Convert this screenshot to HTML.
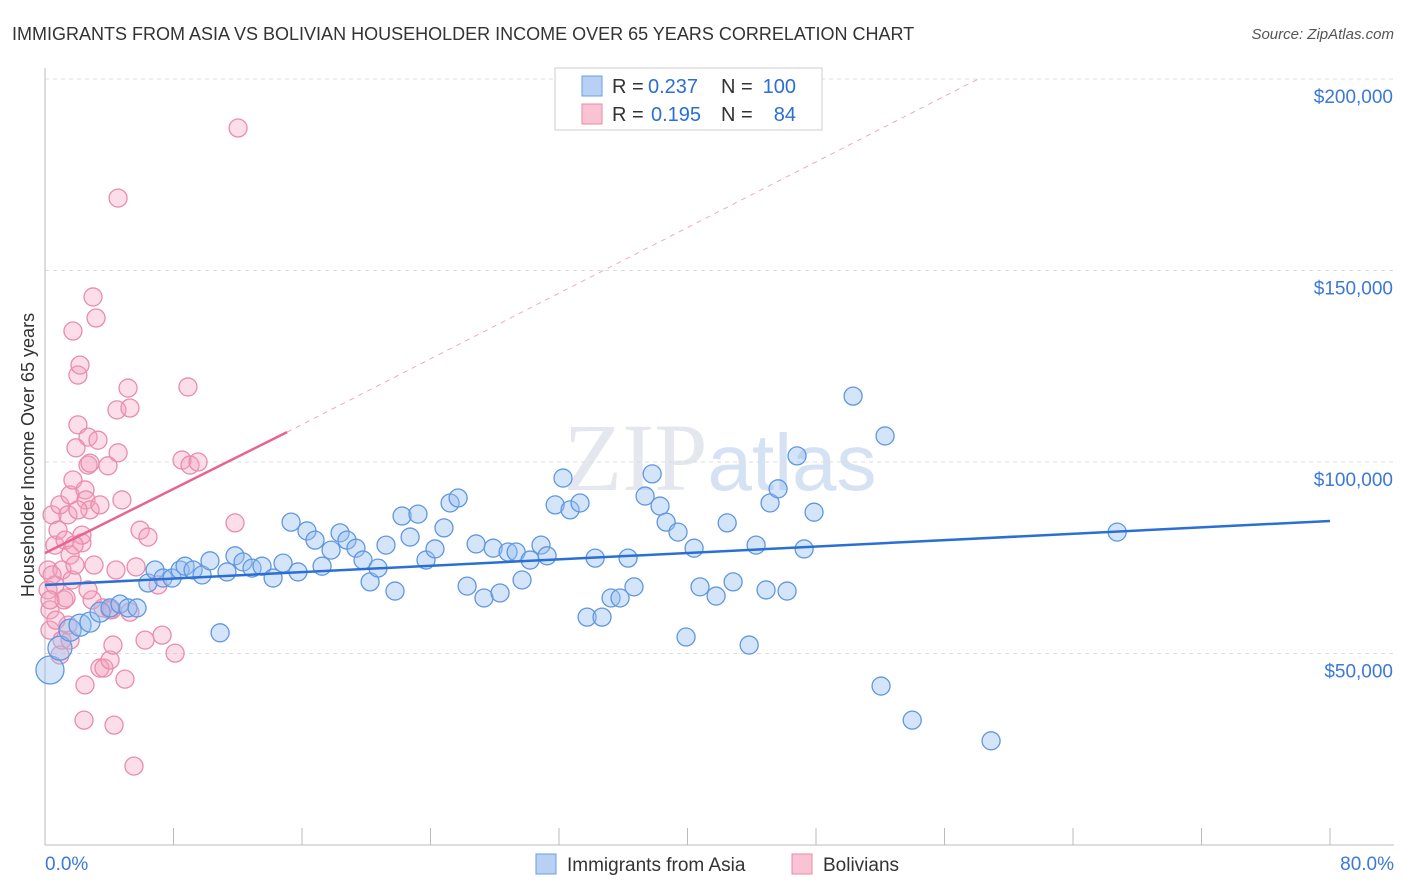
<!DOCTYPE html>
<html><head><meta charset="utf-8"><style>
body{margin:0;background:#fff;font-family:"Liberation Sans",sans-serif;}
svg{display:block}
</style></head><body>
<svg id="chart" width="1406" height="892">
<text x="12" y="40" font-size="18" fill="#333">IMMIGRANTS FROM ASIA VS BOLIVIAN HOUSEHOLDER INCOME OVER 65 YEARS CORRELATION CHART</text>
<text x="1394" y="39" font-size="15" fill="#555" font-style="italic" text-anchor="end">Source: ZipAtlas.com</text>
<text x="720" y="490" font-size="96" fill="#e4e8ee" text-anchor="middle" font-family="Liberation Serif,serif">ZIP<tspan fill="#d4e2f4" font-family="Liberation Sans,sans-serif" font-size="80">atlas</tspan></text>
<text transform="translate(34,455) rotate(-90)" font-size="18" fill="#333" text-anchor="middle">Householder Income Over 65 years</text>
<g id="grid"></g><g id="marks"></g>
<g>
<rect x="555" y="68" width="267" height="62" fill="#fff" stroke="#ccc"/>
<rect x="582" y="76" width="20" height="20" fill="#b7d0f3" stroke="#6a9fe0"/>
<rect x="582" y="104" width="20" height="20" fill="#f9c3d3" stroke="#e889a8"/>
<text x="612" y="93" font-size="20" fill="#333">R =</text>
<text x="648" y="93" font-size="20" fill="#2a6fd6">0.237</text>
<text x="721" y="93" font-size="20" fill="#333">N =</text>
<text x="796" y="93" font-size="20" fill="#2a6fd6" text-anchor="end">100</text>
<text x="612" y="121" font-size="20" fill="#333">R =</text>
<text x="651" y="121" font-size="20" fill="#2a6fd6">0.195</text>
<text x="721" y="121" font-size="20" fill="#333">N =</text>
<text x="796" y="121" font-size="20" fill="#2a6fd6" text-anchor="end">84</text>
</g>
<g>
<rect x="536" y="854" width="20" height="20" fill="#b7d0f3" stroke="#6a9fe0"/>
<text x="567" y="871" font-size="19" fill="#333">Immigrants from Asia</text>
<rect x="792" y="854" width="20" height="20" fill="#f9c3d3" stroke="#e889a8"/>
<text x="823" y="871" font-size="19" fill="#333">Bolivians</text>
</g>
<text x="45" y="870" font-size="19" fill="#3b78d8">0.0%</text>
<text x="1394" y="870" font-size="19" fill="#3b78d8" text-anchor="end">80.0%</text>
</svg>
<script>
const yTicks=[50,100,150,200];
const yTickLabels=["$50,000","$100,000","$150,000","$200,000"];
const xTicks=[0,8,16,24,32,40,48,56,64,72,80];
const asiaX=[.31,.93,1.56,2.18,2.8,3.43,4.05,4.67,5.17,5.73,6.41,6.85,7.35,7.91,8.41,8.72,9.22,9.78,10.27,10.9,11.33,11.83,12.33,12.89,13.51,14.2,14.82,15.32,15.75,16.31,16.81,17.25,17.81,18.37,18.8,19.36,19.8,20.24,20.73,21.23,21.79,22.23,22.73,23.22,23.72,24.28,24.84,25.22,25.72,26.28,26.84,27.33,27.9,28.33,28.83,29.33,29.7,30.2,30.88,31.26,31.76,32.25,32.69,33.31,33.75,34.25,34.68,35.24,35.8,36.3,36.67,37.36,37.8,38.29,38.67,39.41,39.91,40.41,40.78,41.78,42.47,42.84,43.84,44.27,44.89,45.14,45.64,46.2,46.82,47.26,47.88,50.31,52.05,52.3,53.99,58.9,66.75];
const asiaY=[45.7,51.4,56.1,57.4,58.2,60.8,61.9,62.9,61.9,61.9,68.4,71.8,69.7,69.7,71.8,72.8,71.8,70.5,74.2,55.4,71.3,75.5,73.9,72.3,72.8,69.7,73.6,84.3,71.3,82.0,79.6,72.8,77.0,81.5,79.6,77.5,74.4,68.7,72.3,78.3,66.3,85.9,80.4,86.4,74.4,77.3,82.8,89.3,90.6,67.6,78.6,64.5,77.5,65.8,76.5,76.5,69.2,74.4,78.3,75.5,88.8,95.8,87.5,89.3,59.5,74.9,59.5,64.5,64.5,74.9,67.4,91.1,96.9,88.5,84.3,81.7,54.3,77.5,67.4,65.0,84.1,68.7,52.2,78.3,66.6,89.3,93.0,66.3,101.6,77.3,86.9,117.2,41.5,106.8,32.6,27.2,81.7];
const asiaR=[14,12,11,11,10,10];
const bolX=[.19,.19,.31,.31,.44,.62,.62,.81,.93,1.06,1.25,1.43,1.43,1.56,1.56,1.68,1.74,1.74,1.87,1.93,2.05,2.05,2.18,2.3,2.3,2.43,2.49,2.49,2.55,2.68,2.68,2.8,2.8,2.99,3.05,3.18,3.3,3.42,3.61,3.67,3.92,4.05,4.17,4.23,4.3,4.42,4.48,4.55,4.55,4.79,4.98,5.17,5.29,5.29,5.54,5.67,5.92,6.23,6.41,7.04,7.29,8.1,8.53,8.9,9.03,9.53,11.83,12.02,.93,1.06,1.18,1.56,.31,.44,.68,1.31,1.81,2.93,3.42,2.05,2.68,4.05];
const bolY=[71.8,66.6,61.4,56.1,86.2,78.3,67.9,82.2,88.8,71.8,79.6,86.2,57.4,75.7,91.4,69.2,134.2,95.3,73.1,103.7,109.7,122.7,125.3,78.9,80.9,32.6,92.7,41.8,90.1,99.2,106.5,87.5,99.7,143.1,73.1,137.6,105.7,46.2,61.9,46.2,99.0,48.3,61.4,52.2,31.3,71.8,113.6,102.4,168.9,90.1,43.3,119.3,114.1,60.8,20.6,72.6,82.2,53.5,80.4,67.9,54.8,50.1,100.5,119.6,99.2,100.0,84.1,187.2,49.6,53.5,64.0,53.5,64.0,70.5,58.7,64.5,78.3,64.0,88.8,87.5,66.6,61.4];
const asiaLine=[[0,67.9],[80,84.6]];
const bolLine=[[0,76.2],[15.07,107.8]];
const bolDash=[[15.07,107.8],[58.1,200]];
const NS="http://www.w3.org/2000/svg";
const X0=45,X1=1330,YB=845,PXK=191.5/50;
const sx=v=>X0+(v/80)*(X1-X0), sy=v=>YB-v*PXK;
const gridG=document.getElementById('grid'),marksG=document.getElementById('marks');
function mk(tag,attrs,parent){const e=document.createElementNS(NS,tag);for(const k in attrs)e.setAttribute(k,attrs[k]);parent.appendChild(e);return e;}
yTicks.forEach((t,i)=>{
 const l=mk('line',{x1:X0,x2:1394,y1:sy(t),y2:sy(t),stroke:'#ddd','stroke-dasharray':'4,4'},gridG);
 
 
 const tx=mk('text',{x:1393,y:sy(t)+24,'font-size':19,fill:'#3b78d8','text-anchor':'end'},gridG);
 tx.textContent=yTickLabels[i];
 
 
});
const yAxisLine=mk('line',{x1:X0,x2:X0,y1:68,y2:YB,stroke:'#bbb'},gridG);


const xAxisLine=mk('line',{x1:X0,x2:1394,y1:YB,y2:YB,stroke:'#bbb'},gridG);


xTicks.forEach(t=>{
 const l=mk('line',{x1:sx(t),x2:sx(t),y1:YB,y2:YB-17,stroke:'#bbb'},gridG);
 
 
});
bolX.forEach((x,i)=>{
 const c=mk('circle',{cx:sx(x),cy:sy(bolY[i]),r:9,fill:'rgba(244,160,188,0.35)',stroke:'#ea8cab','stroke-width':1.3},marksG);
 
 
});
asiaX.forEach((x,i)=>{
 const c=mk('circle',{cx:sx(x),cy:sy(asiaY[i]),r:asiaR[i]||9,fill:'rgba(150,190,240,0.4)',stroke:'#5f97e0','stroke-width':1.3},marksG);
 
 
});
const dl=mk('line',{x1:sx(bolDash[0][0]),y1:sy(bolDash[0][1]),x2:sx(bolDash[1][0]),y2:sy(bolDash[1][1]),stroke:'#eeaabd','stroke-dasharray':'5,5','stroke-width':1},marksG);


const pl=mk('line',{x1:sx(bolLine[0][0]),y1:sy(bolLine[0][1]),x2:sx(bolLine[1][0]),y2:sy(bolLine[1][1]),stroke:'#e8638f','stroke-width':2.5},marksG);


const bl=mk('line',{x1:sx(asiaLine[0][0]),y1:sy(asiaLine[0][1]),x2:sx(asiaLine[1][0]),y2:sy(asiaLine[1][1]),stroke:'#2a6fd6','stroke-width':2.5},marksG);


</script>
</body></html>
